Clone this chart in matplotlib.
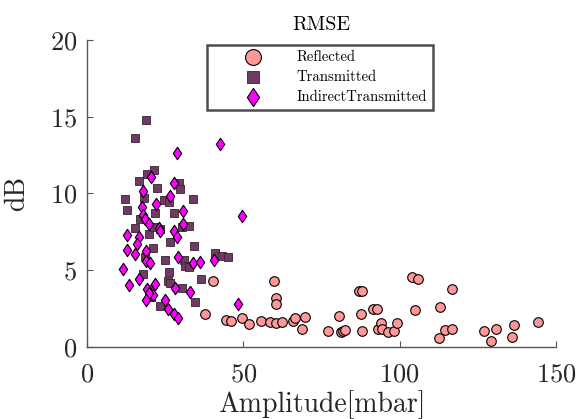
import matplotlib
matplotlib.use("Agg")
import matplotlib.pyplot as plt
from matplotlib.path import Path
import numpy as np

plt.rcParams['font.family'] = 'serif'
plt.rcParams['font.serif'] = ['cmr10']
plt.rcParams['mathtext.fontset'] = 'cm'
plt.rcParams['axes.formatter.use_mathtext'] = True

refl_amp = [49.7, 51.8, 55.6, 58.6, 59.8, 60.5, 60.5, 60.5, 62.5, 66.0, 66.6, 69.8, 68.8, 77.0,
            80.6, 81.3, 82.0, 82.6, 87.0, 88.0, 87.6, 88.1, 91.4, 92.6, 93.0, 94.0, 94.5, 96.3,
            98.2, 99.1, 104.0, 105.8, 104.8, 112.8, 116.8, 114.4, 116.8, 112.6, 127.1, 130.8,
            129.1, 136.5, 135.9, 144.3, 40.3, 37.7, 44.3, 46.2]
refl_db = [1.86, 1.47, 1.69, 1.62, 4.33, 3.16, 2.77, 1.58, 1.62, 1.71, 1.86, 1.93, 1.17, 1.02,
           2.01, 0.99, 1.06, 1.12, 3.68, 3.64, 2.12, 1.06, 2.45, 2.49, 1.15, 1.54, 1.19, 0.97,
           1.06, 1.58, 4.56, 4.42, 2.42, 2.58, 3.79, 1.08, 1.19, 0.58, 1.06, 1.15,
           0.39, 1.43, 0.67, 1.64, 4.29, 2.16, 1.75, 1.67]

trans_amp = [18.9, 15.2, 21.3, 19.2, 16.6, 22.5, 29.3, 29.8, 12.3, 18.1, 24.5, 26.2, 34.0, 12.7,
             21.6, 27.7, 16.8, 15.2, 19.7, 21.3, 23.5, 32.7, 30.3, 21.0, 26.4, 34.3, 18.4, 25.0,
             31.1, 31.5, 32.7, 40.8, 43.3, 45.2, 17.8, 26.2, 26.0, 26.6, 30.3, 36.6, 19.7, 20.6,
             34.4, 23.5]
trans_db = [14.78, 13.59, 11.56, 11.28, 10.84, 10.37, 10.69, 10.28, 9.65, 9.69, 9.59, 9.44, 9.65, 8.90,
            8.75, 8.75, 8.31, 7.75, 7.38, 7.81, 7.71, 7.88, 7.81, 6.47, 6.84, 6.58, 5.86, 5.69,
            5.69, 5.28, 5.21, 6.12, 5.93, 5.86, 4.78, 4.89, 4.29, 4.14, 3.85, 4.46, 3.81, 3.27,
            2.92, 2.68]

ind_amp = [42.4, 28.7, 20.5, 27.7, 17.8, 26.4, 22.1, 17.6, 30.6, 49.6, 17.8, 18.4, 19.7, 22.9,
           23.5, 30.6, 27.7, 28.9, 12.7, 16.6, 16.0, 12.7, 15.2, 18.9, 18.8, 20.0, 29.0, 33.8,
           36.3, 40.7, 11.4, 16.6, 13.4, 21.9, 19.2, 28.0, 33.0, 21.1, 19.9, 18.8, 25.0, 25.9,
           27.9, 29.0, 48.3]
ind_db = [13.20, 12.64, 11.06, 10.69, 10.17, 9.83, 9.31, 9.14, 8.88, 8.51, 8.62, 8.31, 7.99, 7.75,
          7.53, 8.03, 7.53, 7.14, 7.29, 7.19, 6.69, 6.34, 6.06, 6.25, 5.63, 5.47, 5.89, 5.47,
          5.54, 5.65, 5.06, 4.42, 4.07, 4.09, 3.81, 3.85, 3.59, 3.42, 3.49, 3.05, 3.03, 2.45,
          2.16, 1.90, 2.79]

labels = ['Reflected', 'Transmitted', 'IndirectTransmitted']
xticks = [0, 50, 100, 150]
yticks = [0, 5, 10, 15, 20]

diamond = Path([(0, 1), (0.68, 0), (0, -1), (-0.68, 0), (0, 1)],
               [Path.MOVETO, Path.LINETO, Path.LINETO, Path.LINETO, Path.CLOSEPOLY])

fig = plt.figure(figsize=(5.87, 4.19), dpi=100)
ax = fig.add_axes([87/587, 72/419, 469/587, 307/419])

ax.scatter(refl_amp, refl_db, s=48, marker='o', facecolor='#ff9999', edgecolor='black',
           linewidths=0.8, label=labels[0], zorder=3)
ax.scatter(trans_amp, trans_db, s=26, marker='s', facecolor='#6e3b63', edgecolor='#3a2035',
           linewidths=0.6, label=labels[1], zorder=3)
ax.scatter(ind_amp, ind_db, s=80, marker=diamond, facecolor='#ff00ff', edgecolor='black',
           linewidths=0.8, label=labels[2], zorder=4)

ax.set_xlim(0, 150)
ax.set_ylim(0, 20)
ax.set_xticks(xticks)
ax.set_yticks(yticks)
for s in ['top', 'right']:
    ax.spines[s].set_visible(False)
for s in ['left', 'bottom']:
    ax.spines[s].set_color('#555555')
    ax.spines[s].set_linewidth(1.0)
ax.tick_params(direction='in', length=4, width=0.8, color='#555555', labelsize=19,
               labelcolor='#262626')
ax.tick_params(axis='x', pad=11)
ax.tick_params(axis='y', pad=7)
ax.set_xlabel('Amplitude[mbar]', fontsize=20, color='#262626', labelpad=3)
ax.set_ylabel('dB', fontsize=20, color='#262626', labelpad=14)
ax.set_title('RMSE', fontsize=14.5, color='black', pad=7)

fs = 10.6
leg = ax.legend(loc='upper left', bbox_to_anchor=(0.256, 0.985), fontsize=fs,
                frameon=True, fancybox=False, edgecolor='#222222', borderpad=0.4,
                handlelength=5.4, handletextpad=0.3, labelspacing=0.42, borderaxespad=0,
                scatterpoints=1)
leg.get_frame().set_linewidth(1.8)
sizes = [130, 80, 170]
for h, sz in zip(leg.legend_handles, sizes):
    h.set_sizes([sz])

fig.savefig('out.png', dpi=100)
